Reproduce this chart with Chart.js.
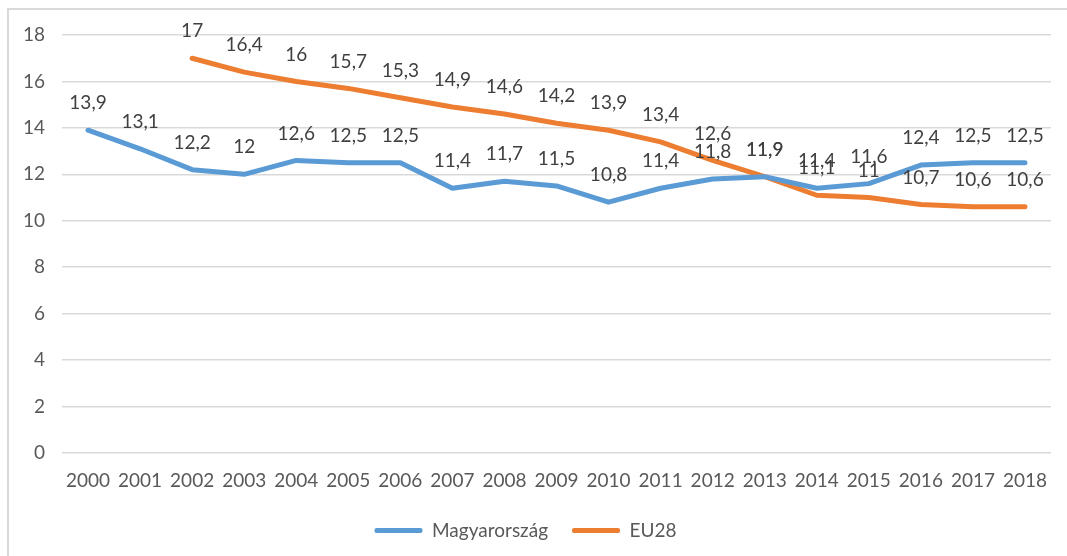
<!DOCTYPE html>
<html>
<head>
<meta charset="utf-8">
<script src="https://cdn.jsdelivr.net/npm/chart.js@4/dist/chart.umd.min.js"></script>
<style>
  html, body { margin: 0; padding: 0; background: #fff; }
  #wrap { position: relative; width: 1067px; height: 556px; overflow: hidden; }
  #frame { position: absolute; left: 7px; top: 8px; width: 1100px; height: 600px; border: 2px solid #d9d9d9; box-sizing: border-box; }
  canvas { position: absolute; left: 0; top: 0; }
</style>
</head>
<body>
<div id="wrap">
  <div id="frame"></div>
  <canvas id="c" width="1067" height="556"></canvas>
</div>
<script>
const years = ['2000','2001','2002','2003','2004','2005','2006','2007','2008','2009','2010','2011','2012','2013','2014','2015','2016','2017','2018'];
const hungary = [13.9,13.1,12.2,12,12.6,12.5,12.5,11.4,11.7,11.5,10.8,11.4,11.8,11.9,11.4,11.6,12.4,12.5,12.5];
const eu28 = [null,null,17,16.4,16,15.7,15.3,14.9,14.6,14.2,13.9,13.4,12.6,11.9,11.1,11,10.7,10.6,10.6];
const seriesNames = ['Magyarország','EU28'];
const yTicks = [0,2,4,6,8,10,12,14,16,18];

const FONT = 'Lato, "Open Sans", sans-serif';
const FS = 19;

const labelPlugin = {
  id: 'pointLabels',
  afterDatasetsDraw(chart) {
    const ctx = chart.ctx;
    ctx.save();
    ctx.font = FS + 'px ' + FONT;
    ctx.fillStyle = '#404040';
    ctx.textAlign = 'center';
    ctx.textBaseline = 'middle';
    chart.data.datasets.forEach((ds, i) => {
      const meta = chart.getDatasetMeta(i);
      meta.data.forEach((pt, j) => {
        const v = ds.data[j];
        if (v === null || v === undefined) return;
        ctx.fillText(String(v).replace('.', ','), pt.x, pt.y - 27);
      });
    });
    ctx.restore();
  }
};

new Chart(document.getElementById('c'), {
  type: 'line',
  data: {
    labels: years,
    datasets: [
      { label: seriesNames[0], data: hungary, borderColor: '#5B9BD5', backgroundColor: '#5B9BD5', borderWidth: 5, pointRadius: 0, borderCapStyle: 'round', borderJoinStyle: 'round', tension: 0 },
      { label: seriesNames[1], data: eu28, borderColor: '#ED7D31', backgroundColor: '#ED7D31', borderWidth: 5, pointRadius: 0, borderCapStyle: 'round', borderJoinStyle: 'round', tension: 0 }
    ]
  },
  options: {
    responsive: false,
    animation: false,
    layout: { padding: { left: 0, right: 16, top: 35, bottom: 6 } },
    plugins: {
      tooltip: { enabled: false },
      legend: {
        position: 'bottom',
        labels: {
          font: { family: FONT, size: FS },
          color: '#595959',
          boxWidth: 48,
          boxHeight: 5,
          padding: 24,
          generateLabels(chart) {
            return chart.data.datasets.map((ds, i) => ({
              text: ds.label, fillStyle: ds.borderColor, strokeStyle: ds.borderColor,
              lineWidth: 0, hidden: false, datasetIndex: i, fontColor: '#595959', borderRadius: 2
            }));
          }
        }
      }
    },
    scales: {
      x: {
        offset: true,
        grid: { display: false, drawTicks: false },
        border: { display: false },
        ticks: { font: { family: FONT, size: FS }, color: '#595959', padding: 16, maxRotation: 0, autoSkip: false },
        afterFit(s) { s.height = 44; }
      },
      y: {
        min: 0, max: 18,
        afterBuildTicks(s) { s.ticks = yTicks.map(v => ({ value: v })); },
        grid: { color: '#d9d9d9', lineWidth: 1.5, drawTicks: false },
        border: { display: false },
        ticks: { font: { family: FONT, size: FS }, color: '#595959', padding: 17 },
        afterFit(s) { s.width = 62; }
      }
    }
  },
  plugins: [labelPlugin]
});
</script>
</body>
</html>
